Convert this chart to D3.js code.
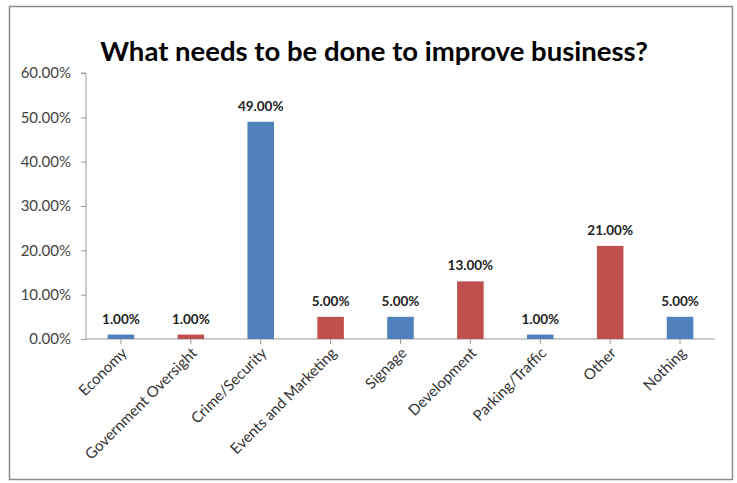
<!DOCTYPE html>
<html><head><meta charset="utf-8">
<script src="https://cdn.jsdelivr.net/npm/d3@7"></script>
<style>body{margin:0;background:#fff}</style>
</head><body>
<svg id="c" width="737" height="483"></svg>
<script>
const categories = ["Economy","Government Oversight","Crime/Security","Events and Marketing","Signage","Development","Parking/Traffic","Other","Nothing"];
const values = [1,1,49,5,5,13,1,21,5];
const seriesColors = ["#4F81BD","#C0504D"];
const yTicks = [0,10,20,30,40,50,60];
const title = "What needs to be done to improve business?";

const svg = d3.select("#c");
svg.append("rect").attr("x",9.5).attr("y",6.5).attr("width",723).attr("height",473)
  .attr("fill","#fff").attr("stroke","#8c8c8c").attr("stroke-width",1.5);

const m = {l:86, r:715, t:73, b:339};
const x = d3.scaleBand().domain(categories).range([m.l,m.r]).paddingInner(0.62).paddingOuter(0.31);
const y = d3.scaleLinear().domain([0,60]).range([m.b,m.t]);
const font = "Lato, 'Open Sans', sans-serif";

svg.append("text").attr("x",374).attr("y",61).attr("text-anchor","middle")
  .attr("font-family",font).attr("font-weight","bold").attr("font-size",27.5).attr("fill","#000").text(title);

const yAxis = svg.append("g").attr("transform",`translate(${m.l},0)`)
  .call(d3.axisLeft(y).tickValues(yTicks).tickSize(5).tickFormat(d=>d.toFixed(2)+"%"));
yAxis.select(".domain").attr("stroke","#999").attr("d",`M-5,${m.t}H0V${m.b}`);
yAxis.selectAll(".tick line").attr("stroke","#999");
yAxis.selectAll(".tick text").attr("font-family",font).attr("font-size",15).attr("fill","#444").attr("x",-15);

const xAxis = svg.append("g").attr("transform",`translate(0,${m.b})`)
  .call(d3.axisBottom(x).tickSize(5).tickSizeOuter(0));
xAxis.select(".domain").attr("stroke","#999").attr("d",`M${m.l},0H${m.r}`);
xAxis.selectAll(".tick line").attr("stroke","#999");
xAxis.selectAll(".tick text").attr("font-family",font).attr("font-size",15).attr("fill","#333")
  .attr("text-anchor","end").attr("dy",0).attr("y",0)
  .attr("transform","translate(7,15) rotate(-45)");

svg.append("g").selectAll("rect").data(values).join("rect")
  .attr("x",(d,i)=>x(categories[i])).attr("width",x.bandwidth())
  .attr("y",d=>y(d)).attr("height",d=>y(0)-y(d))
  .attr("fill",(d,i)=>seriesColors[i%2]);

svg.append("g").selectAll("text").data(values).join("text")
  .attr("x",(d,i)=>x(categories[i])+x.bandwidth()/2).attr("y",d=>y(d)-11)
  .attr("text-anchor","middle").attr("font-family",font).attr("font-weight","bold")
  .attr("font-size",13.5).attr("fill","#222").text(d=>d.toFixed(2)+"%");
</script>
</body></html>
